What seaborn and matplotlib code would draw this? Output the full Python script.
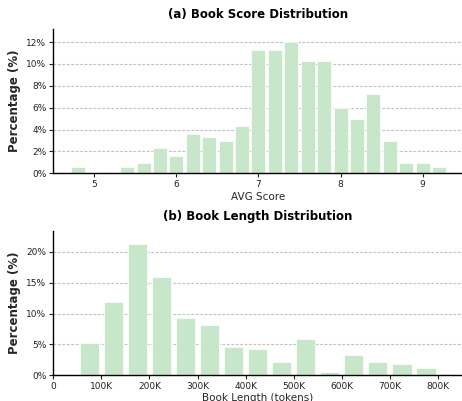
import numpy as np
import pandas as pd
import matplotlib
matplotlib.use("Agg")
import matplotlib.pyplot as plt
import seaborn as sns
from matplotlib.ticker import FuncFormatter

# ---- data ----
score_centers = [4.8, 5.0, 5.2, 5.4, 5.6, 5.8, 6.0, 6.2, 6.4, 6.6, 6.8, 7.0,
                 7.2, 7.4, 7.6, 7.8, 8.0, 8.2, 8.4, 8.6, 8.8, 9.0, 9.2]
score_pct = [0.6, 0.0, 0.0, 0.6, 0.97, 2.28, 1.61, 3.62, 3.29, 2.95, 4.3, 11.3,
             11.3, 12.0, 10.3, 10.3, 6.0, 5.0, 7.28, 2.95, 0.97, 0.97, 0.6]
length_centers = [25, 75, 125, 175, 225, 275, 325, 375, 425, 475, 525, 575,
                  625, 675, 725, 775, 825]  # thousands of tokens
length_pct = [0.25, 5.24, 11.95, 21.3, 15.95, 9.24, 8.2, 4.65, 4.27, 2.2, 5.95,
              0.6, 3.24, 2.2, 1.9, 1.24, 0.25]
score_ticks = [5, 6, 7, 8, 9]
length_ticks = [0, 100, 200, 300, 400, 500, 600, 700, 800]

sns.set_style("ticks")
plt.rcParams['font.family'] = ['DejaVu Sans']

bar_color = "#c8e6c9"

fig = plt.figure(figsize=(4.62, 4.01), dpi=100)
ax1 = fig.add_axes([53.3/462, 1 - 173.3/401, (462-53.3)/462, (173.3-29)/401])
ax2 = fig.add_axes([53.3/462, 1 - 375.3/401, (462-53.3)/462, (375.3-230.7)/401])

df1 = pd.DataFrame({"x": score_centers, "w": score_pct})
sns.histplot(data=df1, x="x", weights="w", binwidth=0.2, binrange=(4.7, 9.3),
             shrink=0.85, color=bar_color, alpha=1, edgecolor="white",
             linewidth=0.5, ax=ax1)

df2 = pd.DataFrame({"x": length_centers, "w": length_pct})
sns.histplot(data=df2, x="x", weights="w", binwidth=50, binrange=(0, 850),
             shrink=0.8, color=bar_color, alpha=1, edgecolor="white",
             linewidth=0.5, ax=ax2)

for ax, ymax in [(ax1, max(score_pct)), (ax2, max(length_pct))]:
    ax.set_ylim(0, ymax * 1.1)
    ax.grid(axis="y", linestyle=(0, (2.5, 1.5)), color="#c0c0c0", linewidth=0.8)
    ax.set_axisbelow(True)
    sns.despine(ax=ax)
    ax.spines['left'].set_linewidth(1.0)
    ax.spines['bottom'].set_linewidth(1.0)
    ax.spines['left'].set_color("black")
    ax.spines['bottom'].set_color("black")
    ax.tick_params(labelsize=6.5, length=3, width=0.8, colors="#222222", pad=2)
    ax.set_ylabel("Percentage (%)", fontsize=8.5, fontweight="bold", labelpad=4)
    ax.yaxis.set_major_formatter(FuncFormatter(lambda v, p: f"{v:.0f}%"))

ax1.set_xlim(4.5, 9.48)
ax1.set_xticks(score_ticks)
ax1.set_yticks([0, 2, 4, 6, 8, 10, 12])
ax1.set_xlabel("AVG Score", fontsize=7.5, labelpad=2)
ax1.set_title("(a) Book Score Distribution", fontsize=8.5, fontweight="bold",
              pad=8, color="black")

ax2.set_xlim(0, 850)
ax2.set_xticks(length_ticks)
ax2.xaxis.set_major_formatter(FuncFormatter(lambda v, p: "0" if v == 0 else f"{v:.0f}K"))
ax2.set_yticks([0, 5, 10, 15, 20])
ax2.set_xlabel("Book Length (tokens)", fontsize=7.5, labelpad=1)
ax2.set_title("(b) Book Length Distribution", fontsize=8.5, fontweight="bold",
              pad=8, color="black")

fig.savefig("out.png", dpi=100)
